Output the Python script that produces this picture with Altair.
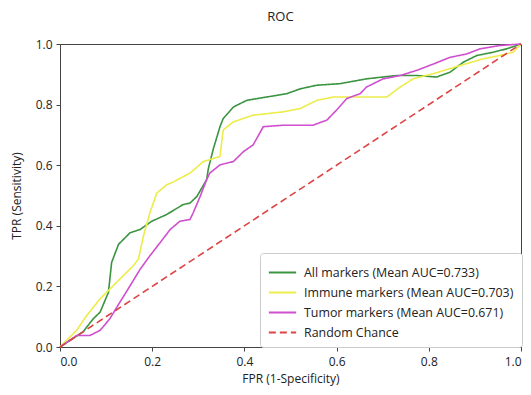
import altair as alt
import pandas as pd

series_names = [
    "All markers (Mean AUC=0.733)",
    "Immune markers (Mean AUC=0.703)",
    "Tumor markers (Mean AUC=0.671)",
    "Random Chance",
]
series_colors = ["#3a9440", "#ecec4a", "#cf4fcf", "#dd4444"]
series_dash = [[1, 0], [1, 0], [1, 0], [7, 4]]

all_fpr = [0.0, 0.05, 0.072, 0.087, 0.105, 0.112, 0.127, 0.152, 0.174, 0.199, 0.231, 0.267, 0.282,
           0.297, 0.318, 0.322, 0.333, 0.347, 0.354, 0.376, 0.405, 0.448, 0.492, 0.521, 0.557, 0.607,
           0.665, 0.73, 0.774, 0.817, 0.846, 0.875, 0.904, 0.94, 0.969, 1.0]
all_tpr = [0.0, 0.05, 0.093, 0.115, 0.18, 0.279, 0.339, 0.377, 0.388, 0.415, 0.437, 0.47, 0.475,
           0.497, 0.552, 0.59, 0.656, 0.727, 0.754, 0.792, 0.814, 0.825, 0.836, 0.852, 0.864, 0.869,
           0.885, 0.896, 0.896, 0.891, 0.907, 0.94, 0.962, 0.973, 0.984, 1.0]

imm_fpr = [0.0, 0.036, 0.058, 0.087, 0.108, 0.137, 0.159, 0.17, 0.181, 0.195, 0.21, 0.231, 0.246,
           0.282, 0.311, 0.347, 0.354, 0.376, 0.419, 0.484, 0.521, 0.557, 0.593, 0.665, 0.709, 0.738,
           0.766, 0.81, 0.868, 0.918, 0.954, 0.983, 1.0]
imm_tpr = [0.0, 0.055, 0.104, 0.159, 0.191, 0.235, 0.268, 0.29, 0.366, 0.443, 0.508, 0.535, 0.545,
           0.574, 0.612, 0.629, 0.716, 0.743, 0.765, 0.776, 0.787, 0.814, 0.825, 0.825, 0.825, 0.858,
           0.885, 0.902, 0.929, 0.951, 0.962, 0.973, 1.0]

tum_fpr = [0.0, 0.036, 0.065, 0.087, 0.108, 0.13, 0.152, 0.174, 0.195, 0.217, 0.239, 0.26, 0.282,
           0.289, 0.304, 0.318, 0.325, 0.347, 0.376, 0.398, 0.419, 0.441, 0.484, 0.549, 0.579, 0.6,
           0.622, 0.651, 0.665, 0.701, 0.738, 0.774, 0.81, 0.846, 0.882, 0.911, 0.954, 1.0]
tum_tpr = [0.0, 0.038, 0.038, 0.055, 0.093, 0.148, 0.202, 0.257, 0.301, 0.344, 0.388, 0.415, 0.421,
           0.443, 0.497, 0.552, 0.574, 0.601, 0.612, 0.645, 0.667, 0.727, 0.732, 0.732, 0.749, 0.782,
           0.82, 0.836, 0.858, 0.885, 0.896, 0.913, 0.934, 0.956, 0.967, 0.984, 0.995, 1.0]

chance_fpr = [0.0, 1.0]
chance_tpr = [0.0, 1.0]

rows = []
for name, xs, ys in zip(series_names,
                        [all_fpr, imm_fpr, tum_fpr, chance_fpr],
                        [all_tpr, imm_tpr, tum_tpr, chance_tpr]):
    for i, (x, y) in enumerate(zip(xs, ys)):
        rows.append({"series": name, "fpr": x, "tpr": y, "idx": i})
df = pd.DataFrame(rows)

ticks = [0.0, 0.2, 0.4, 0.6, 0.8, 1.0]
FONT = "Open Sans"

chart = alt.Chart(df).mark_line(strokeWidth=1.6).encode(
    x=alt.X("fpr:Q", title="FPR (1-Specificity)",
            scale=alt.Scale(domain=[0, 1], nice=False),
            axis=alt.Axis(values=ticks, format=".1f", grid=False,
                          labelPadding=5, titlePadding=6)),
    y=alt.Y("tpr:Q", title="TPR (Sensitivity)",
            scale=alt.Scale(domain=[0, 1], nice=False),
            axis=alt.Axis(values=ticks, format=".1f", grid=False,
                          labelPadding=4, titlePadding=12)),
    color=alt.Color("series:N", title=None,
                    scale=alt.Scale(domain=series_names, range=series_colors),
                    legend=alt.Legend(orient="none", legendX=200, legendY=209,
                                      labelFont=FONT, labelFontSize=12.4,
                                      labelColor="#222", labelLimit=400,
                                      symbolType="M-1.3,0H1.3", symbolSize=441,
                                      symbolStrokeWidth=2, symbolOffset=3,
                                      labelOffset=10,
                                      padding=8, fillColor="white",
                                      strokeColor="#cccccc", cornerRadius=3,
                                      rowPadding=2)),
    strokeDash=alt.StrokeDash("series:N", title=None,
                              scale=alt.Scale(domain=series_names, range=series_dash)),
    order="idx:Q",
).properties(
    width=461,
    height=303,
    title=alt.TitleParams("ROC", fontSize=13, font=FONT, fontWeight="normal",
                          anchor="middle", dx=-10, offset=14, color="#222"),
    padding={"left": 52, "top": 36, "right": 2, "bottom": 40},
    autosize=alt.AutoSizeParams(type="none"),
).configure_view(
    stroke="#444", strokeWidth=1
).configure_axis(
    labelFont=FONT, titleFont=FONT, labelFontSize=12, titleFontSize=12,
    titleFontWeight="normal", labelColor="#222", titleColor="#222",
    domainColor="#444", tickColor="#444", tickSize=4,
)

chart.save("out.html", embed_options={"renderer": "svg", "actions": False})
